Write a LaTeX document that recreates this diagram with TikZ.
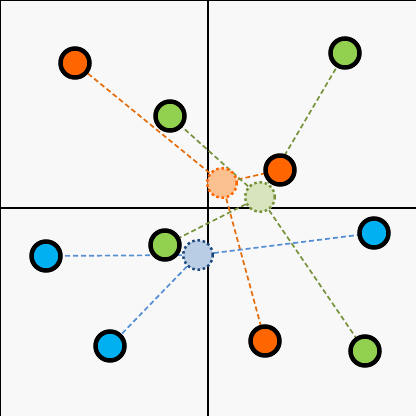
\documentclass[tikz,border=0pt]{standalone}
\begin{document}
\begin{tikzpicture}[x=1pt,y=-1pt,
  pt/.style={circle,draw=black,line width=4.5pt,minimum size=29pt,inner sep=0pt},
  ctr/.style={circle,dash pattern=on 2.5pt off 2.8pt,line width=2.5pt,minimum size=29.5pt,inner sep=0pt},
  lnk/.style={dash pattern=on 5pt off 3pt,line width=1.7pt}]
\definecolor{bg}{HTML}{F8F8F8}
\definecolor{orng}{HTML}{FF6600}
\definecolor{grn}{HTML}{92D050}
\definecolor{blu}{HTML}{00B0F0}
\definecolor{orngl}{HTML}{FBC08F}
\definecolor{grnl}{HTML}{D7E4BD}
\definecolor{blul}{HTML}{B9CDE5}
\definecolor{orngd}{HTML}{E46C0A}
\definecolor{grnd}{HTML}{77933C}
\definecolor{blud}{HTML}{558ED5}
\definecolor{bluk}{HTML}{1F497D}
\fill[bg] (0,0) rectangle (416,416);
\useasboundingbox (0,0) rectangle (416,416);
\draw[line width=2pt] (0,416) -- (0,0) -- (416,0);
\draw[line width=1.5pt] (208,0) -- (208,416);
\draw[line width=1.5pt] (0,208) -- (416,208);
% coordinates
\coordinate (o1) at (75,63);
\coordinate (o2) at (280,170);
\coordinate (o3) at (265,341);
\coordinate (g1) at (345,53);
\coordinate (g2) at (170,116);
\coordinate (g3) at (165,245);
\coordinate (g4) at (365,351);
\coordinate (b1) at (46,256);
\coordinate (b2) at (110,346);
\coordinate (b3) at (374,233);
\coordinate (co) at (222,183);
\coordinate (cg) at (260,197);
\coordinate (cb) at (198,255);
% links
\draw[lnk,orngd] (co) -- (o1);
\draw[lnk,orngd] (co) -- (o2);
\draw[lnk,orngd] (co) -- (o3);
\draw[lnk,grnd] (cg) -- (g1);
\draw[lnk,grnd] (cg) -- (g2);
\draw[lnk,grnd] (cg) -- (g3);
\draw[lnk,grnd] (cg) -- (g4);
\draw[lnk,blud] (cb) -- (b1);
\draw[lnk,blud] (cb) -- (b2);
\draw[lnk,blud] (cb) -- (b3);
% centroids
\node[ctr,fill=orngl,draw=orng] (nco) at (co) {};
\node[ctr,fill=grnl,draw=grnd] (ncg) at (cg) {};
\node[ctr,fill=blul,draw=bluk] (ncb) at (cb) {};
% points
\node[pt,fill=orng] (no1) at (o1) {};
\node[pt,fill=orng] (no2) at (o2) {};
\node[pt,fill=orng] (no3) at (o3) {};
\node[pt,fill=grn] (ng1) at (g1) {};
\node[pt,fill=grn] (ng2) at (g2) {};
\node[pt,fill=grn] (ng3) at (g3) {};
\node[pt,fill=grn] (ng4) at (g4) {};
\node[pt,fill=blu] (nb1) at (b1) {};
\node[pt,fill=blu] (nb2) at (b2) {};
\node[pt,fill=blu] (nb3) at (b3) {};
\end{tikzpicture}
\end{document}
